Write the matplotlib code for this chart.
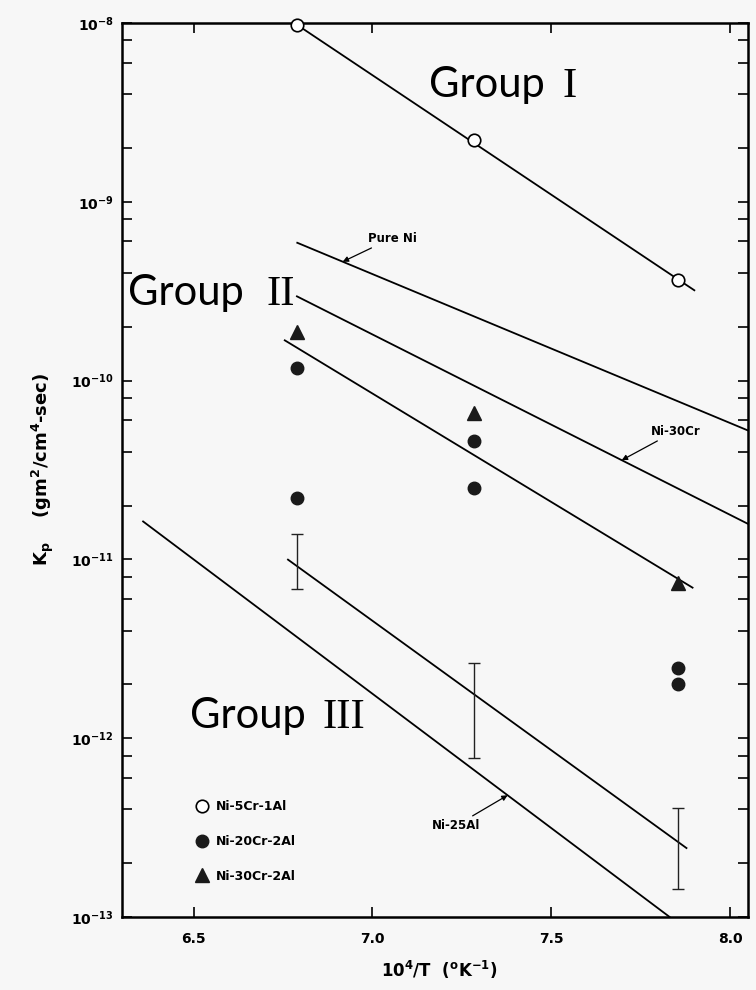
import numpy as np
import matplotlib
matplotlib.use('Agg')
import matplotlib.pyplot as plt
from matplotlib.ticker import FuncFormatter, FixedLocator, NullFormatter

# 10^4/T for 1200, 1100 and 1000 C
inv_T = [6.789, 7.283, 7.855]

# parabolic rate constants Kp (gm^2/cm^4-sec)
ni5cr1al_kp = [9.75e-9, 2.23e-9, 3.67e-10]
ni20cr2al_x = [6.789, 6.789, 7.283, 7.283, 7.855, 7.855]
ni20cr2al_kp = [1.17e-10, 2.2e-11, 4.57e-11, 2.52e-11, 2.48e-12, 2.02e-12]
ni30cr2al_kp = [1.86e-10, 6.55e-11, 7.41e-12]

# scatter range of the group III alloys
band_hi = [1.39e-11, 2.64e-12, 4.07e-13]
band_lo = [6.87e-12, 7.76e-13, 1.43e-13]

# straight lines (end points)
fit1_x, fit1_kp = [6.79, 7.90], [9.75e-9, 3.2e-10]
pure_ni_x, pure_ni_kp = [6.79, 8.05], [5.9e-10, 5.26e-11]
ni30cr_x, ni30cr_kp = [6.789, 8.05], [2.96e-10, 1.58e-11]
fit2_x, fit2_kp = [6.755, 7.895], [1.68e-10, 6.95e-12]
fit3_x, fit3_kp = [6.764, 7.878], [9.97e-12, 2.43e-13]
ni25al_x, ni25al_kp = [6.359, 7.831], [1.63e-11, 1.0e-13]

x_ticks = [6.5, 7.0, 7.5, 8.0]
x_ticklabels = ['6.5', '7.0', '7.5', '8.0']
decades = [-13, -12, -11, -10, -9, -8]

W, H = 756, 990
bg = '#f7f7f7'


def px(x, y):
    return x / W, 1 - y / H


def on_line(xs, ks, x):
    return 10 ** np.interp(x, xs, np.log10(ks))


fig = plt.figure(figsize=(W / 100, H / 100), dpi=100, facecolor=bg)
ax = fig.add_axes([122 / W, 1 - 917 / H, 626 / W, 894 / H])
ax.set_facecolor(bg)
ax.set_yscale('log')
ax.set_xlim(6.30, 8.05)
ax.set_ylim(1e-13, 1e-8)

for xs, ks in [(fit1_x, fit1_kp), (pure_ni_x, pure_ni_kp), (ni30cr_x, ni30cr_kp),
               (fit2_x, fit2_kp), (fit3_x, fit3_kp), (ni25al_x, ni25al_kp)]:
    ax.plot(xs, ks, color='k', lw=1.3, zorder=2)

# error bars drawn around the geometric mean of each range
lo = np.array(band_lo)
hi = np.array(band_hi)
mid = np.sqrt(lo * hi)
ax.errorbar(inv_T, mid, yerr=[mid - lo, hi - mid], fmt='none', ecolor='#222222',
            elinewidth=1.0, capsize=4, capthick=1.0, zorder=2)

ax.plot(inv_T, ni5cr1al_kp, 'o', ms=9, mfc='white', mec='k', mew=1.2,
        label='Ni-5Cr-1Al', clip_on=False, zorder=4)
ax.plot(ni20cr2al_x, ni20cr2al_kp, 'o', ms=9, mfc='#1a1a1a', mec='#1a1a1a',
        label='Ni-20Cr-2Al', zorder=4)
ax.plot(inv_T, ni30cr2al_kp, '^', ms=9.5, mfc='#1a1a1a', mec='#1a1a1a',
        label='Ni-30Cr-2Al', zorder=4)

# axes styling
for s in ax.spines.values():
    s.set_linewidth(1.8)
ax.xaxis.set_major_locator(FixedLocator(x_ticks))
ax.set_xticklabels(x_ticklabels, fontsize=10, fontweight='bold')
ax.yaxis.set_major_locator(FixedLocator([10.0 ** d for d in decades]))
ax.yaxis.set_minor_locator(FixedLocator([m * 10.0 ** d for d in decades[:-1] for m in (2, 4, 6, 8)]))
ax.yaxis.set_minor_formatter(NullFormatter())
ax.yaxis.set_major_formatter(FuncFormatter(lambda v, p: r'$\mathbf{10^{%d}}$' % round(np.log10(v))))
ax.tick_params(which='both', direction='in', top=True, right=True, length=7, width=1.2)
ax.tick_params(axis='x', pad=11)
ax.tick_params(axis='y', labelsize=10, pad=6)

# line labels
kw = dict(fontsize=8.5, fontweight='bold', va='center',
          arrowprops=dict(arrowstyle='-|>', lw=0.9, color='k', mutation_scale=8,
                          shrinkA=1, shrinkB=0))
ax.annotate('Pure Ni', xy=(6.917, on_line(pure_ni_x, pure_ni_kp, 6.917)),
            xytext=(18, 17), textcoords='offset points', ha='left', **kw)
ax.annotate('Ni-30Cr', xy=(7.697, on_line(ni30cr_x, ni30cr_kp, 7.697)),
            xytext=(21, 21), textcoords='offset points', ha='left', **kw)
ax.annotate('Ni-25Al', xy=(7.378, on_line(ni25al_x, ni25al_kp, 7.378)),
            xytext=(-20, -22), textcoords='offset points', ha='right', **kw)

leg = ax.legend(loc='upper left', bbox_to_anchor=((196 - 122) / 626, (917 - 800) / 894),
                frameon=False, borderpad=0, borderaxespad=0, handlelength=1.0,
                handletextpad=0.6, labelspacing=1.75, prop=dict(size=9, weight='bold'))

# group labels
for word_x, num_x, base_y, num in [(429, 562, 97, 'I'), (128, 267, 305, 'II'), (190, 322, 728, 'III')]:
    fig.text(*px(word_x, base_y), 'Group', family='Lato', fontsize=30, va='baseline')
    fig.text(*px(num_x, base_y), num, family='Liberation Serif', fontsize=31, va='baseline')

fig.text(*px(43, 469), r'K$_\mathbf{p}$    (gm$^\mathbf{2}$/cm$^\mathbf{4}$-sec)',
         rotation=90, fontsize=13, fontweight='bold', ha='center', va='center')
fig.text(*px(439, 970), r'10$^\mathbf{4}$/T  ($^\mathbf{o}$K$^\mathbf{-1}$)',
         fontsize=12, fontweight='bold', ha='center', va='center')

fig.savefig('out.png', dpi=100, facecolor=bg)
